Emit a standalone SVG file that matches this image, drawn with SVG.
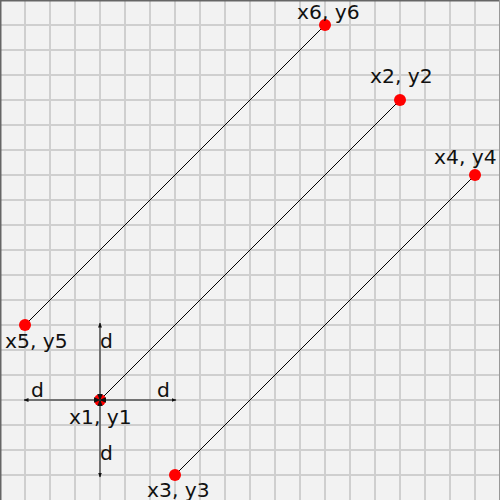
<svg xmlns="http://www.w3.org/2000/svg" width="500" height="500" viewBox="0 0 500 500">
<defs>
<marker id="ah" viewBox="0 0 10 10" refX="9" refY="5" markerWidth="5" markerHeight="5" orient="auto" markerUnits="userSpaceOnUse">
<path d="M0 1L10 5L0 9Z" fill="#111"/>
</marker>
<marker id="as" viewBox="0 0 10 10" refX="1" refY="5" markerWidth="7" markerHeight="7" orient="auto" markerUnits="userSpaceOnUse">
<path d="M10 1L0 5L10 9Z" fill="#111"/>
</marker>
</defs>
<style>
.t{font-family:"DejaVu Sans",sans-serif;font-size:20.3px;fill:#111}
.pt{fill:#ff0000}
.ln{stroke:#000;stroke-width:1;fill:none}
.ax{stroke:#555;stroke-width:1.5;fill:none}
.g{stroke:#cfcfcf;stroke-width:2;fill:none}
</style>
<rect width="500" height="500" fill="#f2f2f2"/>
<path class="g" d="M25 0V500M50 0V500M75 0V500M100 0V500M125 0V500M150 0V500M175 0V500M200 0V500M225 0V500M250 0V500M275 0V500M300 0V500M325 0V500M350 0V500M375 0V500M400 0V500M425 0V500M450 0V500M475 0V500M0 25H500M0 50H500M0 75H500M0 100H500M0 125H500M0 150H500M0 175H500M0 200H500M0 225H500M0 250H500M0 275H500M0 300H500M0 325H500M0 350H500M0 375H500M0 400H500M0 425H500M0 450H500M0 475H500"/>
<path d="M0.75 500V0.75H500" fill="none" stroke="#666" stroke-width="1.5"/>
<path d="M499.5 0V500" fill="none" stroke="#999" stroke-width="1"/>
<g id="connectors">
<line class="ln" x1="25" y1="325" x2="325" y2="25"/>
<line class="ln" x1="100" y1="400" x2="400" y2="100"/>
<line class="ln" x1="175" y1="475" x2="475" y2="175"/>
</g>
<g id="p1"><circle class="pt" cx="100" cy="400" r="6"/><text class="t" x="69" y="424">x1, y1</text></g>
<g id="p2"><circle class="pt" cx="400" cy="100" r="6"/><text class="t" x="370" y="83">x2, y2</text></g>
<g id="p3"><circle class="pt" cx="175" cy="475" r="6"/><text class="t" x="147" y="497">x3, y3</text></g>
<g id="p4"><circle class="pt" cx="475" cy="175" r="6"/><text class="t" x="434" y="164">x4, y4</text></g>
<g id="p5"><circle class="pt" cx="25" cy="325" r="6"/><text class="t" x="5" y="348">x5, y5</text></g>
<g id="p6"><circle class="pt" cx="325" cy="25" r="6"/><text class="t" x="297" y="19">x6, y6</text></g>
<g id="axes">
<line class="ax" x1="100" y1="400" x2="176" y2="400" marker-end="url(#ah)" marker-start="url(#as)"/>
<line class="ax" x1="100" y1="400" x2="24" y2="400" marker-end="url(#ah)" marker-start="url(#as)"/>
<line class="ax" x1="100" y1="400" x2="100" y2="323" marker-end="url(#ah)" marker-start="url(#as)"/>
<line class="ax" x1="100" y1="400" x2="100" y2="477" marker-end="url(#ah)" marker-start="url(#as)"/>
<text class="t" x="100" y="348">d</text>
<text class="t" x="31" y="397">d</text>
<text class="t" x="157" y="397">d</text>
<text class="t" x="100" y="460">d</text>
</g>
</svg>
